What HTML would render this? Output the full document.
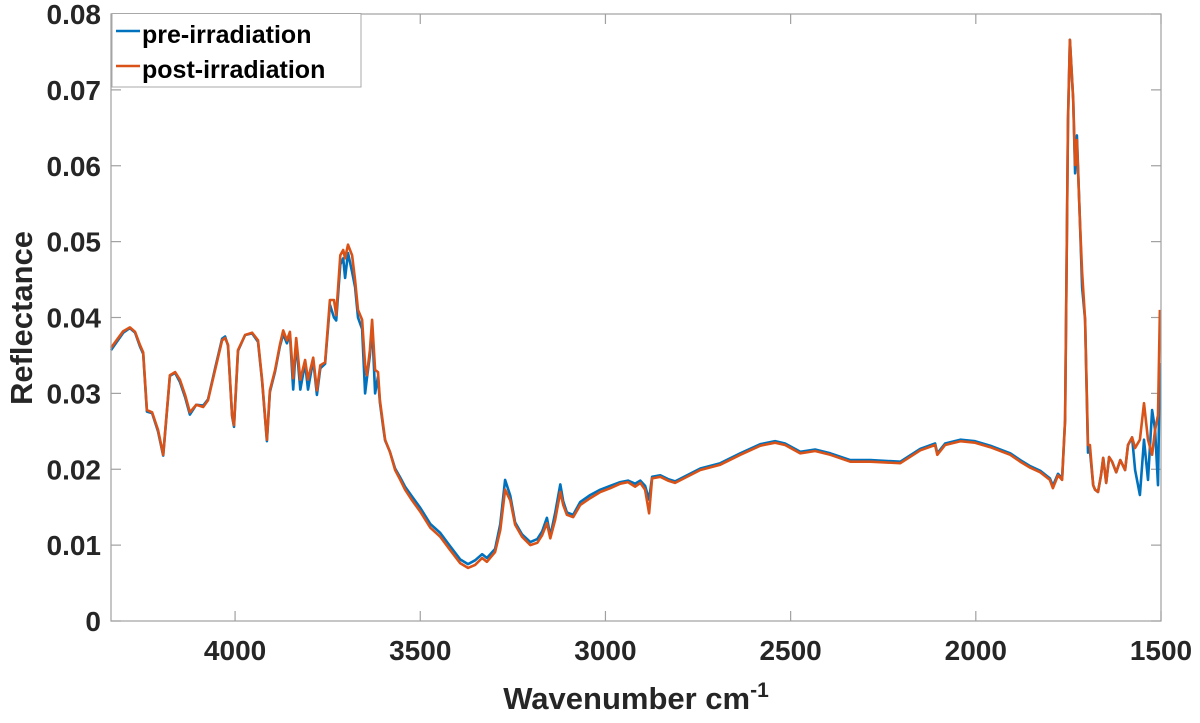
<!DOCTYPE html>
<html><head><meta charset="utf-8"><style>
body{margin:0;background:#fff;}
svg{display:block;font-family:"Liberation Sans",Arial,sans-serif;}
</style></head><body>
<svg id="chart" width="1200" height="723" viewBox="0 0 1200 723">
<rect x="0" y="0" width="1200" height="723" fill="#fff"/>
<g id="axes"></g>
<g id="series"></g>
<rect x="111" y="14" width="1050" height="607" fill="none" stroke="#a0a0a0" stroke-width="1.2"/>
<g>
<rect x="112" y="13.5" width="249" height="73.5" fill="#fff" stroke="#a8a8a8" stroke-width="1"/>
<line x1="116" y1="31" x2="140" y2="31" stroke="#0072BD" stroke-width="2.5"/>
<text x="142" y="43" font-size="25" font-weight="bold" fill="#000">pre-irradiation</text>
<line x1="116" y1="66" x2="140" y2="66" stroke="#D95319" stroke-width="2.5"/>
<text x="142" y="78" font-size="25" font-weight="bold" fill="#000">post-irradiation</text>
</g>
<text x="636" y="709" text-anchor="middle" font-size="31" font-weight="bold" fill="#262626">Wavenumber cm<tspan dy="-12" font-size="21">-1</tspan></text>
<text transform="translate(32,318) rotate(-90)" text-anchor="middle" font-size="31" font-weight="bold" fill="#262626">Reflectance</text>
</svg>
<script>
const wavenumbers=[4335,4302,4284,4270,4257,4248,4238,4224,4208,4194,4176,4162,4149,4135,4122,4105,4086,4073,4054,4035,4027,4019,4008,4003,3992,3973,3954,3938,3927,3914,3906,3892,3879,3870,3860,3852,3843,3835,3824,3811,3803,3789,3779,3770,3757,3744,3733,3727,3716,3708,3703,3695,3684,3676,3668,3657,3649,3644,3636,3630,3622,3614,3609,3600,3595,3582,3568,3554,3541,3522,3500,3473,3446,3420,3392,3371,3352,3333,3320,3298,3284,3271,3257,3244,3225,3203,3184,3171,3158,3149,3136,3122,3114,3104,3087,3068,3041,3014,2987,2960,2939,2920,2906,2893,2882,2874,2852,2831,2812,2744,2690,2636,2582,2542,2515,2474,2434,2393,2339,2285,2204,2150,2110,2104,2083,2042,2002,1961,1907,1880,1853,1826,1800,1792,1778,1767,1759,1751,1746,1737,1732,1727,1719,1713,1705,1697,1692,1683,1678,1670,1662,1656,1648,1640,1632,1621,1610,1597,1589,1578,1570,1557,1546,1535,1524,1516,1508,1503];
const postValues=[.0360,.0382,.0387,.0381,.0364,.0354,.0278,.0275,.0252,.0219,.0324,.0328,.0318,.0298,.0275,.0285,.0282,.0291,.0331,.0370,.0373,.0364,.0271,.0258,.0357,.0377,.0380,.0370,.0318,.0239,.0304,.0331,.0364,.0383,.0370,.0381,.0320,.0373,.0318,.0344,.0318,.0347,.0304,.0337,.0341,.0423,.0423,.0403,.0482,.0489,.0478,.0496,.0482,.0449,.0410,.0397,.0337,.0324,.0357,.0397,.0331,.0328,.0291,.0258,.0239,.0223,.0199,.0186,.0173,.0159,.0144,.0123,.0111,.0094,.0076,.0070,.0074,.0083,.0078,.0091,.0120,.0173,.0159,.0127,.0111,.0100,.0103,.0113,.0129,.0109,.0133,.0170,.0153,.0140,.0137,.0153,.0162,.0170,.0175,.0181,.0183,.0177,.0182,.0173,.0142,.0188,.0190,.0185,.0182,.0199,.0206,.0219,.0231,.0235,.0232,.0221,.0224,.0219,.0210,.0210,.0208,.0225,.0232,.0219,.0232,.0237,.0235,.0229,.0219,.0210,.0202,.0196,.0186,.0175,.0192,.0186,.0265,.0660,.0766,.0687,.0601,.0634,.0528,.0460,.0397,.0232,.0232,.0179,.0173,.0170,.0192,.0215,.0182,.0216,.0210,.0196,.0212,.0199,.0232,.0242,.0228,.0239,.0287,.0239,.0219,.0252,.0271,.0410];
const preValues=[.0357,.0380,.0386,.0380,.0362,.0352,.0276,.0274,.0250,.0218,.0323,.0327,.0315,.0295,.0272,.0285,.0284,.0292,.0333,.0372,.0375,.0363,.0270,.0256,.0356,.0377,.0379,.0368,.0316,.0237,.0302,.0329,.0362,.0378,.0366,.0378,.0305,.0368,.0305,.0340,.0305,.0344,.0298,.0333,.0339,.0417,.0400,.0396,.0470,.0478,.0452,.0485,.0460,.0440,.0400,.0385,.0300,.0320,.0350,.0390,.0300,.0322,.0288,.0255,.0238,.0223,.0201,.0189,.0177,.0164,.0149,.0128,.0116,.0099,.0081,.0075,.0080,.0088,.0083,.0095,.0128,.0186,.0165,.0130,.0114,.0104,.0108,.0118,.0136,.0112,.0142,.0180,.0158,.0143,.0140,.0157,.0166,.0173,.0178,.0183,.0185,.0181,.0185,.0178,.0160,.0190,.0192,.0187,.0184,.0201,.0208,.0221,.0233,.0237,.0234,.0223,.0226,.0221,.0212,.0212,.0210,.0227,.0234,.0221,.0234,.0239,.0237,.0231,.0221,.0212,.0204,.0198,.0188,.0178,.0194,.0188,.0265,.0660,.0766,.0687,.0590,.0640,.0528,.0440,.0397,.0222,.0225,.0179,.0173,.0170,.0192,.0215,.0182,.0216,.0210,.0196,.0212,.0199,.0232,.0242,.0199,.0166,.0239,.0186,.0278,.0252,.0179,.0340];
const xTicks=[4000,3500,3000,2500,2000,1500];
const yTicks=[0,0.01,0.02,0.03,0.04,0.05,0.06,0.07,0.08];
const yTickLabels=["0","0.01","0.02","0.03","0.04","0.05","0.06","0.07","0.08"];

const NS="http://www.w3.org/2000/svg";
const L=111,R=1161,T=14,B=621,XMAX=4335,XMIN=1500,YMAX=0.08;
function xs(w){return L+(XMAX-w)/(XMAX-XMIN)*(R-L);}
function ys(v){return B-v/YMAX*(B-T);}
const axes=document.getElementById('axes');
xTicks.forEach(t=>{
  const x=xs(t);
  const l1=document.createElementNS(NS,'line');
  l1.setAttribute('x1',x);l1.setAttribute('x2',x);l1.setAttribute('y1',B);l1.setAttribute('y2',B-10);
  l1.setAttribute('stroke','#a0a0a0');l1.setAttribute('stroke-width','1.2');
  
  
  axes.appendChild(l1);
  const l2=document.createElementNS(NS,'line');
  l2.setAttribute('x1',x);l2.setAttribute('x2',x);l2.setAttribute('y1',T);l2.setAttribute('y2',T+10);
  l2.setAttribute('stroke','#a0a0a0');l2.setAttribute('stroke-width','1.2');
  
  
  axes.appendChild(l2);
  const tx=document.createElementNS(NS,'text');
  tx.setAttribute('x',x);tx.setAttribute('y',660);tx.setAttribute('text-anchor','middle');
  tx.setAttribute('font-size','28');tx.setAttribute('font-weight','bold');tx.setAttribute('fill','#262626');
  tx.textContent=t;
  
  
  axes.appendChild(tx);
});
yTicks.forEach((t,i)=>{
  const y=ys(t);
  const l1=document.createElementNS(NS,'line');
  l1.setAttribute('x1',L);l1.setAttribute('x2',L+10);l1.setAttribute('y1',y);l1.setAttribute('y2',y);
  l1.setAttribute('stroke','#a0a0a0');l1.setAttribute('stroke-width','1.2');
  
  
  axes.appendChild(l1);
  const l2=document.createElementNS(NS,'line');
  l2.setAttribute('x1',R-10);l2.setAttribute('x2',R);l2.setAttribute('y1',y);l2.setAttribute('y2',y);
  l2.setAttribute('stroke','#a0a0a0');l2.setAttribute('stroke-width','1.2');
  
  
  axes.appendChild(l2);
  const tx=document.createElementNS(NS,'text');
  tx.setAttribute('x',101);tx.setAttribute('y',y+10);tx.setAttribute('text-anchor','end');
  tx.setAttribute('font-size','28');tx.setAttribute('font-weight','bold');tx.setAttribute('fill','#262626');
  tx.textContent=yTickLabels[i];
  
  
  axes.appendChild(tx);
});
const series=document.getElementById('series');
function drawLine(vals,color,name){
  const p=document.createElementNS(NS,'polyline');
  p.setAttribute('points',wavenumbers.map((w,i)=>xs(w).toFixed(1)+','+ys(vals[i]).toFixed(1)).join(' '));
  p.setAttribute('fill','none');p.setAttribute('stroke',color);p.setAttribute('stroke-width','2.6');
  p.setAttribute('stroke-linejoin','round');
  
  
  series.appendChild(p);
}
drawLine(preValues,'#0072BD','pre-irradiation-line');
drawLine(postValues,'#D95319','post-irradiation-line');
</script>
</body></html>
